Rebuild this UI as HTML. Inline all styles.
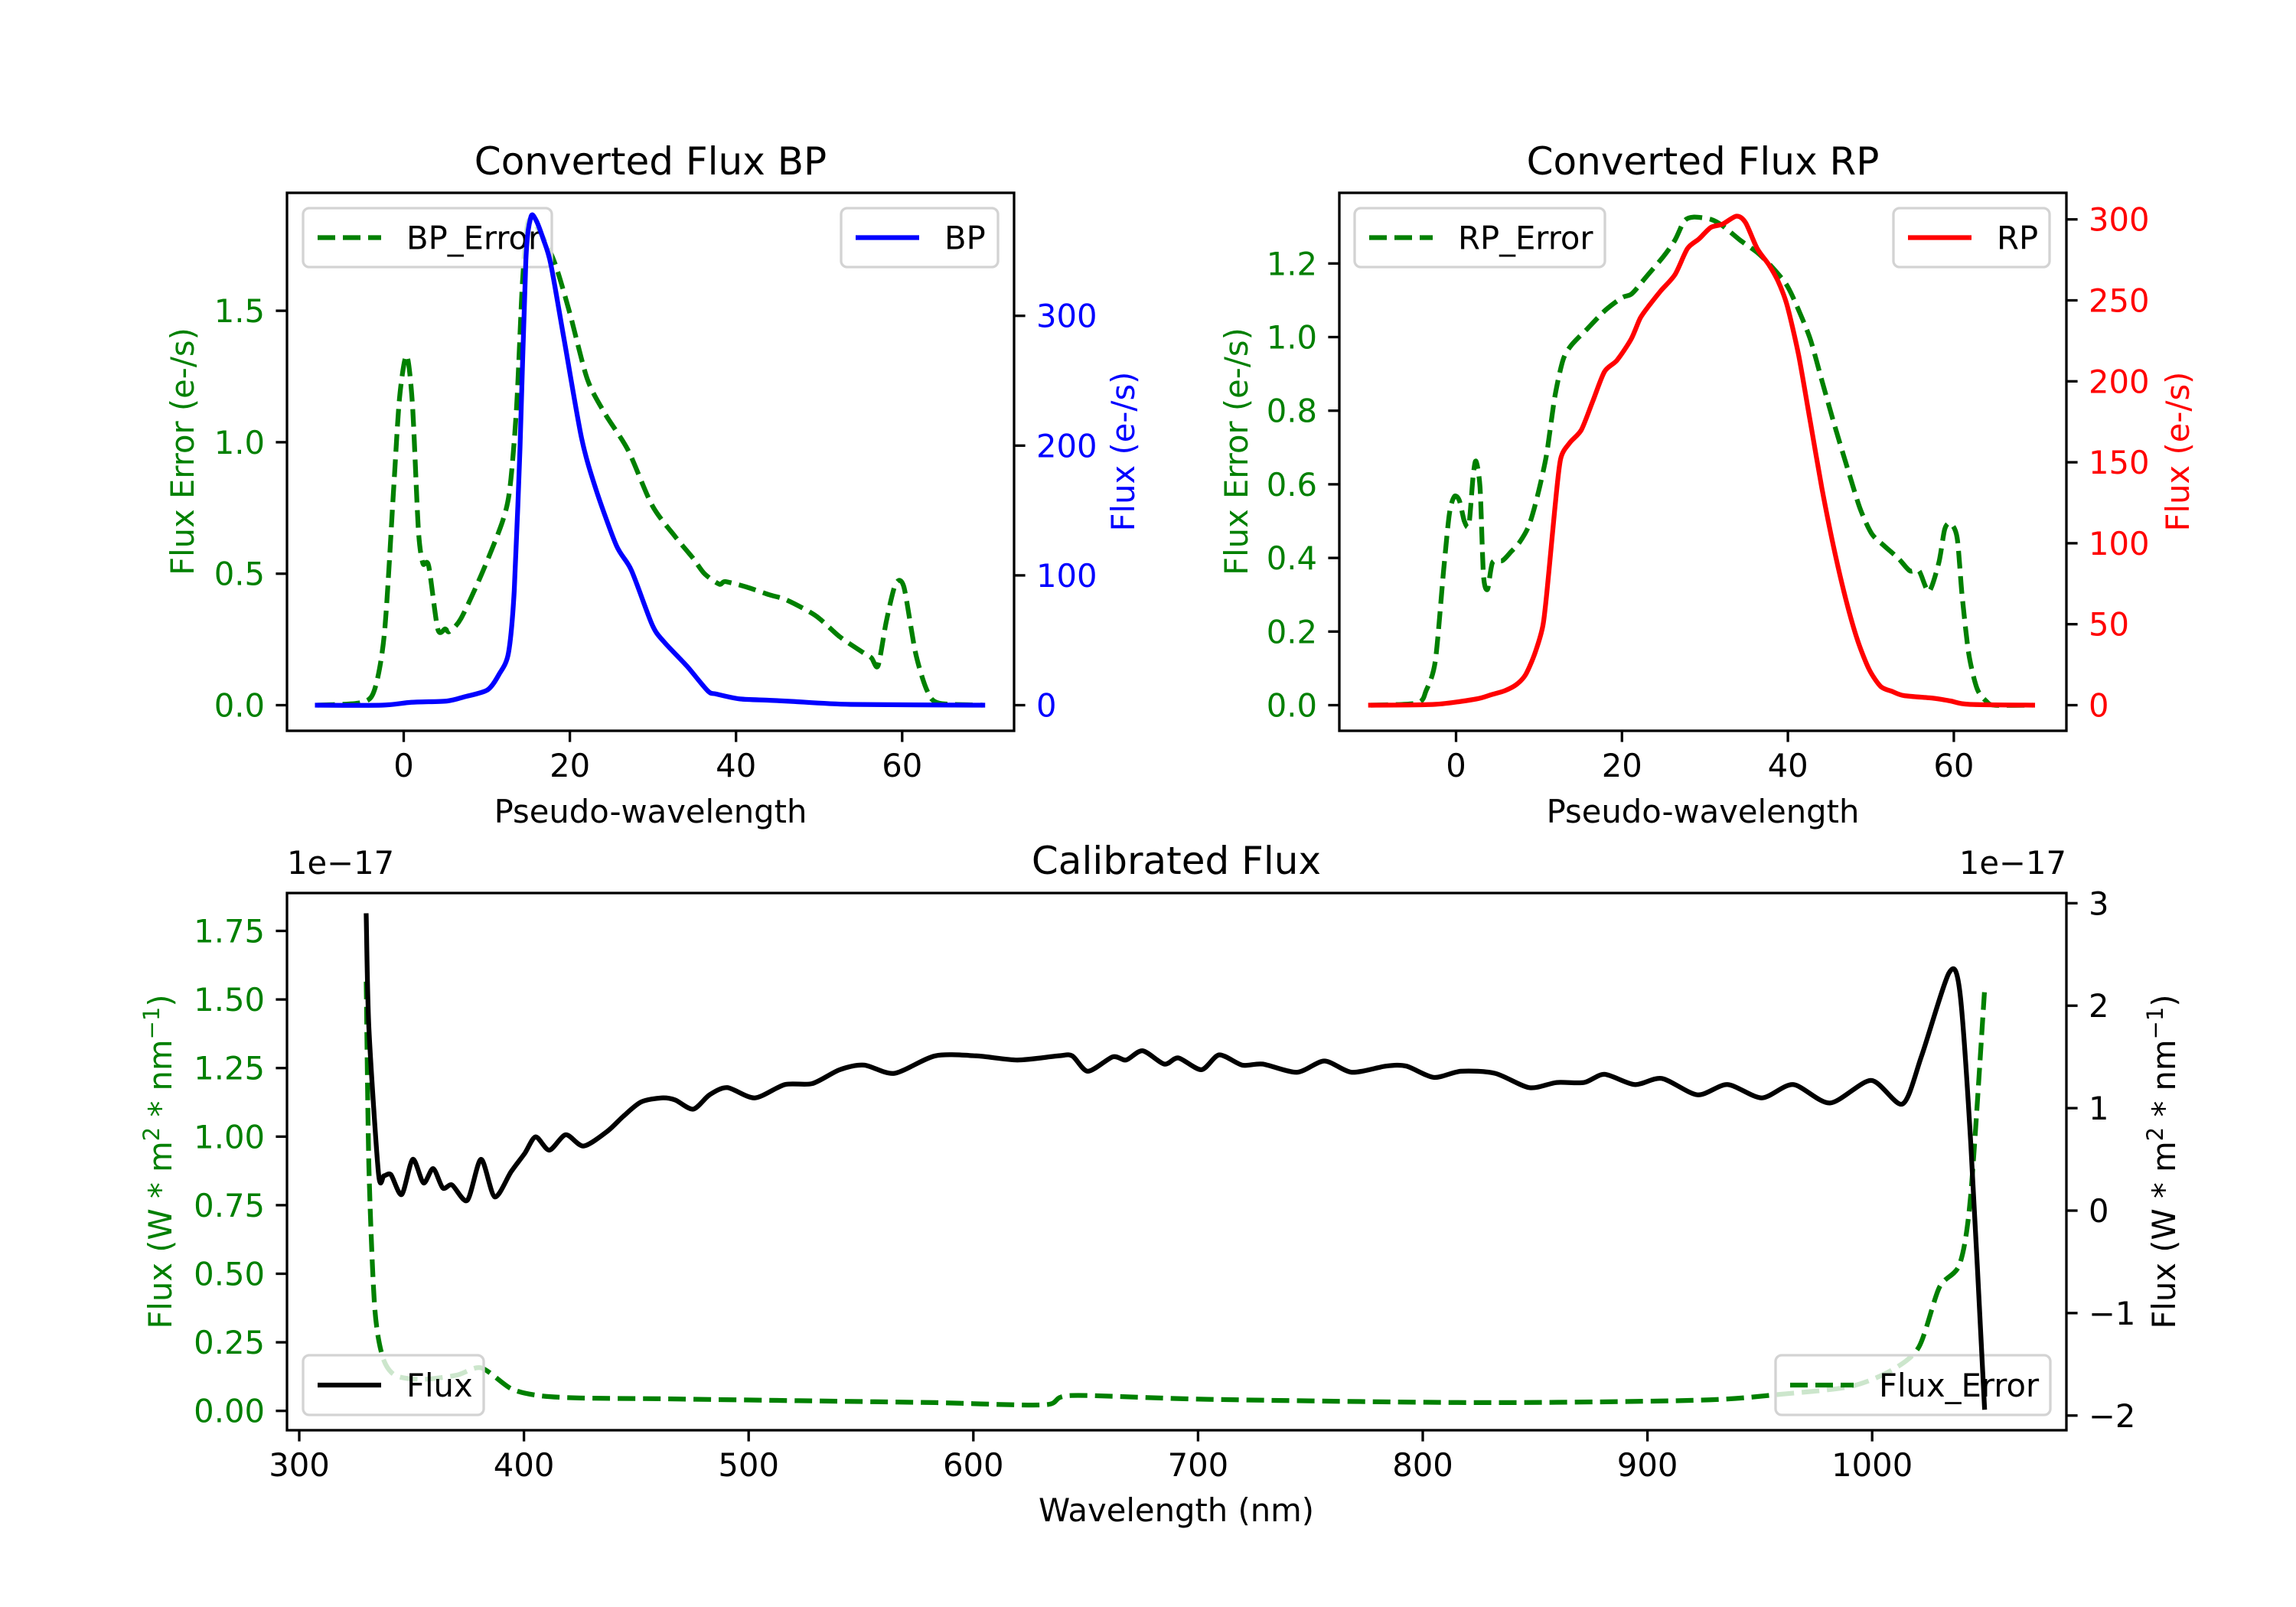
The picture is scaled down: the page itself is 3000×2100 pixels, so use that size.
<!DOCTYPE html>
<html><head><meta charset="utf-8"><style>
html,body{margin:0;padding:0;background:#fff}
svg{display:block}
text{font-family:"DejaVu Sans","Liberation Sans",sans-serif}
</style></head><body>
<svg id="s" width="3000" height="2100" viewBox="0 0 3000 2100" xmlns="http://www.w3.org/2000/svg">
<rect width="3000" height="2100" fill="#fff"/>
</svg>
<script>
const S=document.getElementById('s');const NS='http://www.w3.org/2000/svg';
function el(t,a,txt){const e=document.createElementNS(NS,t);for(const k in a)e.setAttribute(k,a[k]);if(txt!==undefined)e.textContent=txt;S.appendChild(e);return e;}
function path(pts,fx,fy,col,dash){const P=pts.map(p=>[fx(p[0]),fy(p[1])]);let d='M'+P[0][0].toFixed(1)+','+P[0][1].toFixed(1);const k=1/6*0.8;
 for(let i=0;i<P.length-1;i++){const p0=P[i-1]||P[i],p1=P[i],p2=P[i+1],p3=P[i+2]||P[i+1];
  const c1=[p1[0]+(p2[0]-p0[0])*k,p1[1]+(p2[1]-p0[1])*k],c2=[p2[0]-(p3[0]-p1[0])*k,p2[1]-(p3[1]-p1[1])*k];
  d+='C'+c1[0].toFixed(1)+','+c1[1].toFixed(1)+' '+c2[0].toFixed(1)+','+c2[1].toFixed(1)+' '+p2[0].toFixed(1)+','+p2[1].toFixed(1);}
 const a={d:d,fill:'none',stroke:col,'stroke-width':6.25,'stroke-linejoin':'round','stroke-linecap':dash?'butt':'square'};if(dash)a['stroke-dasharray']='23,10';el('path',a);}
function frame(l,t,r,b){el('rect',{x:l,y:t,width:r-l,height:b-t,fill:'none',stroke:'#000','stroke-width':3.3});}
function xt(l,b,vals,fx,lab){vals.forEach(v=>{const x=fx(v);el('line',{x1:x,y1:b,x2:x,y2:b+14.6,stroke:'#000','stroke-width':3.3});el('text',{x:x,y:b+60,'font-size':41.7,'text-anchor':'middle'},lab?lab(v):String(v));});}
function yt(x,vals,fy,col,side,lab){vals.forEach(v=>{const y=fy(v);const d=side<0?-14.6:14.6;el('line',{x1:x,y1:y,x2:x+d,y2:y,stroke:'#000','stroke-width':3.3});
 el('text',{x:x+(side<0?-29:29),y:y+15,'font-size':41.7,'text-anchor':side<0?'end':'start',fill:col},lab?lab(v):String(v));});}
function vlab(x,y,txt,col){const e=el('text',{x:x,y:y,'font-size':41.7,'text-anchor':'middle',fill:col,transform:'rotate(-90 '+x+' '+y+')'},txt);return e;}
function legend(l,t,r,b,col,dash,txt){el('rect',{x:l,y:t,width:r-l,height:b-t,rx:8,fill:'#fff','fill-opacity':0.8,stroke:'#d3d3d3','stroke-width':3.3});
 const cy=(t+b)/2;const a={x1:l+19,y1:cy,x2:l+102,y2:cy,stroke:col,'stroke-width':6.25};if(dash)a['stroke-dasharray']='23,10';el('line',a);
 el('text',{x:l+135,y:cy+15,'font-size':41.7},txt);}
const G='#008000';
// ---------- BP ----------
{const L=375,R=1325,T=252,B=955;const fx=x=>527.5+x*10.855,fy=v=>921.5-v*343.6,fy2=v=>921.5-v*1.696;
const err=[[-10.4,0],[-5.1,0.01],[-3.5,0.06],[-2.3,0.28],[-1.2,0.83],[-0.5,1.17],[0.35,1.33],[1.06,1.14],[1.76,0.67],[2.3,0.54],[3,0.53],[4.1,0.29],[5,0.29],[5.5,0.28],[6.9,0.33],[9.4,0.5],[11.9,0.7],[12.8,0.83],[13.6,1.14],[14.3,1.61],[15,1.84],[16.4,1.8],[18.2,1.68],[20,1.49],[22.1,1.24],[24.2,1.11],[27,0.97],[29.9,0.76],[32.7,0.64],[34.8,0.56],[36.2,0.5],[38,0.46],[38.7,0.47],[41.2,0.45],[44,0.42],[46.1,0.4],[49.6,0.34],[52.5,0.26],[55.3,0.2],[56.3,0.18],[57.1,0.15],[58.1,0.32],[59.2,0.46],[60.2,0.45],[61.6,0.2],[63,0.055],[64.4,0.008],[69.7,0]];
const fl=[[-10.4,0],[-2.6,0],[0.9,2.2],[5.2,3.2],[7.3,6.4],[10.1,11.8],[11.5,24],[12.6,40],[13.3,88],[14,199],[14.7,343],[15.3,376],[15.9,374],[16.8,359],[17.7,340],[19.3,282],[21.4,206],[23.1,167],[25.6,123],[27.4,104],[29.9,62],[31.3,49],[34.1,30],[36.6,11],[37.6,8.6],[40.5,4.8],[44,3.8],[46.8,2.9],[53.8,0.6],[69.7,0]];
path(err,fx,fy,G,true);legend(396,272,721,349,G,true,'BP_Error');
path(fl,fx,fy2,'#0000ff',false);legend(1099,272,1304,349,'#0000ff',false,'BP');
frame(L,T,R,B);xt(L,B,[0,20,40,60],fx);yt(L,[0,0.5,1,1.5],fy,G,-1,v=>v.toFixed(1));yt(R,[0,100,200,300],fy2,'#0000ff',1);
el('text',{x:850,y:228,'font-size':50,'text-anchor':'middle'},'Converted Flux BP');
el('text',{x:850,y:1075,'font-size':41.7,'text-anchor':'middle'},'Pseudo-wavelength');
vlab(253,590,'Flux Error (e-/s)',G);vlab(1482,590,'Flux (e-/s)','#0000ff');}
// ---------- RP ----------
{const L=1750,R=2700,T=252,B=955;const fx=x=>1902.5+x*10.84,fy=v=>921.5-v*481,fy2=v=>921.5-v*2.116;
const err=[[-10.3,0],[-4.7,0.006],[-3.6,0.04],[-2.5,0.12],[-1.5,0.365],[-0.8,0.52],[-0.2,0.567],[0.4,0.556],[1,0.5],[1.55,0.49],[2.05,0.62],[2.4,0.663],[2.9,0.59],[3.3,0.354],[3.8,0.315],[4.4,0.388],[5.6,0.393],[6.6,0.416],[7.7,0.444],[8.8,0.489],[9.8,0.567],[10.9,0.68],[11.9,0.837],[12.9,0.938],[13.9,0.978],[15.8,1.022],[18,1.073],[20,1.107],[21.2,1.118],[22.9,1.163],[25,1.219],[26.4,1.264],[27.5,1.315],[28.6,1.326],[30.7,1.32],[32.1,1.303],[34.2,1.264],[36.3,1.23],[38.1,1.19],[39.9,1.14],[41.3,1.073],[42.7,0.994],[44.1,0.882],[45.5,0.77],[47.3,0.635],[48.7,0.534],[50.1,0.466],[51.6,0.433],[53.3,0.399],[54.7,0.365],[55.8,0.365],[57,0.309],[58.2,0.388],[58.9,0.478],[59.6,0.494],[60.4,0.455],[61,0.298],[61.8,0.14],[62.8,0.045],[63.9,0.011],[64.9,0],[69.5,0]];
const fl=[[-10.3,0],[-2.5,0.5],[2.4,3.8],[4.2,6.4],[5.9,9],[7.3,12.8],[8.4,19],[9.5,32],[10.5,50],[11.2,83],[11.9,121],[12.6,152],[13.7,162],[15.1,170],[16.5,188],[17.9,206],[19.4,213],[21.1,226],[22.2,239],[23.3,247],[24.7,256],[26.4,266],[27.9,282],[29.3,288],[30.7,295],[32.1,297],[33.8,302],[34.9,298],[36.3,282],[37.7,272],[38.8,262],[39.9,247],[41.3,216],[42.7,175],[44.1,134],[45.5,98],[47,65],[48.4,40],[49.8,22],[51.2,11.5],[52.6,8.4],[54,5.9],[57.5,4.3],[59.6,2.6],[61.8,0.5],[69.5,0]];
path(err,fx,fy,G,true);legend(1770,272,2097,349,G,true,'RP_Error');
path(fl,fx,fy2,'#ff0000',false);legend(2474,272,2678,349,'#ff0000',false,'RP');
frame(L,T,R,B);xt(L,B,[0,20,40,60],fx);yt(L,[0,0.2,0.4,0.6,0.8,1.0,1.2],fy,G,-1,v=>v.toFixed(1));yt(R,[0,50,100,150,200,250,300],fy2,'#ff0000',1);
el('text',{x:2225,y:228,'font-size':50,'text-anchor':'middle'},'Converted Flux RP');
el('text',{x:2225,y:1075,'font-size':41.7,'text-anchor':'middle'},'Pseudo-wavelength');
vlab(1630,590,'Flux Error (e-/s)',G);vlab(2860,590,'Flux (e-/s)','#ff0000');}
// ---------- Calibrated ----------
{const L=375,R=2700,T=1167,B=1869;const fx=x=>391+(x-300)*2.936,fy=v=>1843.7-v*358.4,fy2=v=>1849.8-(v+2)*133.9;
const err=[[329.8,1.565],[331,0.89],[333.5,0.385],[337,0.2],[342.6,0.13],[354.7,0.115],[370,0.13],[380.9,0.157],[394.3,0.081],[406.4,0.056],[424.7,0.047],[461.2,0.044],[522,0.037],[583,0.03],[631.5,0.022],[643.7,0.056],[704.5,0.042],[826,0.03],[923.5,0.039],[960,0.061],[990.4,0.089],[1008.6,0.148],[1020.8,0.233],[1029.9,0.45],[1039,0.536],[1043.9,0.79],[1050,1.53]];
const fl=[[329.8,2.878],[331,1.78],[335.3,0.36],[337.7,0.34],[340.8,0.35],[345.6,0.157],[350.5,0.5],[355.3,0.27],[359.6,0.41],[363.9,0.22],[368,0.25],[374.8,0.1],[380.9,0.5],[387,0.134],[394.3,0.38],[400.4,0.56],[405.2,0.72],[411.3,0.59],[418.6,0.74],[426.5,0.63],[436.9,0.77],[444.2,0.92],[452.1,1.06],[461.2,1.1],[467.3,1.08],[475.3,0.99],[482.6,1.13],[490.5,1.2],[502.7,1.1],[516.1,1.23],[528.3,1.24],[540.5,1.375],[551.4,1.42],[564.8,1.34],[583,1.51],[601.3,1.51],[619.6,1.47],[637.8,1.51],[644,1.51],[651,1.36],[662,1.5],[668,1.47],[675.3,1.56],[685,1.43],[691.2,1.49],[701.5,1.375],[709.4,1.52],[719.7,1.42],[728.8,1.43],[744,1.35],[756.2,1.46],[768.4,1.35],[783.6,1.41],[792.7,1.41],[804.9,1.3],[817,1.36],[832.2,1.34],[847.4,1.2],[859.6,1.25],[871.8,1.25],[880.9,1.33],[894.3,1.23],[906.4,1.29],[922.2,1.13],[935.6,1.23],[950.8,1.1],[964.8,1.23],[981.2,1.05],[999.5,1.27],[1013.5,1.04],[1022,1.51],[1034.2,2.32],[1039,2.14],[1043.9,0.65],[1050,-1.92]];
path(err,fx,fy,G,true);legend(2320,1771,2679,1849,G,true,'Flux_Error');
path(fl,fx,fy2,'#000',false);legend(396,1771,632,1849,'#000',false,'Flux');
frame(L,T,R,B);xt(L,B,[300,400,500,600,700,800,900,1000],fx);
yt(L,[0,0.25,0.5,0.75,1,1.25,1.5,1.75],fy,G,-1,v=>v.toFixed(2));
yt(R,[-2,-1,0,1,2,3],fy2,'#000',1,v=>v<0?'\u2212'+(-v):String(v));
el('text',{x:1537,y:1142,'font-size':50,'text-anchor':'middle'},'Calibrated Flux');
el('text',{x:375,y:1142,'font-size':41.7},'1e\u221217');
el('text',{x:2700,y:1142,'font-size':41.7,'text-anchor':'end'},'1e\u221217');
el('text',{x:1537,y:1988,'font-size':41.7,'text-anchor':'middle'},'Wavelength (nm)');
function yl(x,col){const e=el('text',{x:x,y:1518,'font-size':41.7,'text-anchor':'middle',fill:col,transform:'rotate(-90 '+x+' 1518)'});
 e.innerHTML='Flux (W * m<tspan dy="-16" font-size="29">2</tspan><tspan dy="16"> * nm</tspan><tspan dy="-16" font-size="29">\u22121</tspan><tspan dy="16">)</tspan>';}
yl(224,G);yl(2842,'#000');}
</script>
</body></html>
